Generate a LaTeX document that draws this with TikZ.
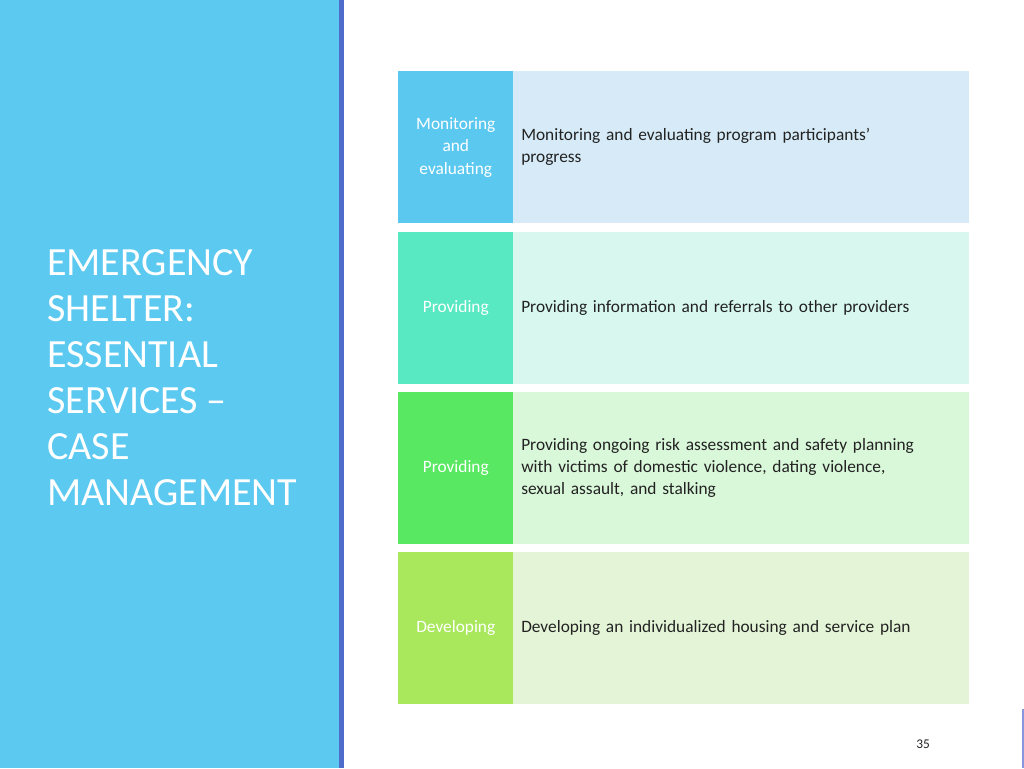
\documentclass[tikz,border=0pt]{standalone}
\usepackage{fontspec}
\setmainfont{Carlito}
\definecolor{side}{HTML}{5CC9F1}
\definecolor{stripe}{HTML}{4F6CCB}
\definecolor{l1}{HTML}{5BC8F0}\definecolor{r1}{HTML}{D6EBF7}
\definecolor{l2}{HTML}{58E8C2}\definecolor{r2}{HTML}{D7F7EF}
\definecolor{l3}{HTML}{58E862}\definecolor{r3}{HTML}{D9F7D9}
\definecolor{l4}{HTML}{A9E85C}\definecolor{r4}{HTML}{E4F5D7}
\definecolor{txt}{HTML}{222222}
\tikzset{x=0.75pt,y=-0.75pt,
 lbox/.style={minimum width=115*0.75pt,minimum height=152*0.75pt,anchor=north west,inner sep=0pt,text=white,font=\fontsize{13}{17}\selectfont,align=center},
 rbox/.style={minimum width=456*0.75pt,minimum height=152*0.75pt,anchor=north west,inner sep=0pt,text=txt,font=\fontsize{13}{16.5}\selectfont,align=left,text width=440*0.75pt}}
\begin{document}
\begin{tikzpicture}
\useasboundingbox (0,0) rectangle (1024,768);
\fill[white] (0,0) rectangle (1024,768);
\fill[side] (0,0) rectangle (339,768);
\fill[stripe] (339,0) rectangle (344,768);
\node[anchor=west,text=white,font=\fontsize{30}{34.5}\selectfont,align=left,inner sep=0pt] (title) at (47,378) {EMERGENCY\\SHELTER:\\ESSENTIAL\\SERVICES --\\CASE\\MANAGEMENT};
\node[lbox,fill=l1] (a1) at (398,71) {Monitoring\\and\\evaluating};
\node[rbox,fill=r1] (b1) at (513,71) {Monitoring and evaluating program participants'\\progress};
\node[lbox,fill=l2] (a2) at (398,232) {Providing};
\node[rbox,fill=r2] (b2) at (513,232) {Providing information and referrals to other providers};
\node[lbox,fill=l3] (a3) at (398,392) {Providing};
\node[rbox,fill=r3] (b3) at (513,392) {Providing ongoing risk assessment and safety planning\\with victims of domestic violence, dating violence,\\sexual assault, and stalking};
\node[lbox,fill=l4] (a4) at (398,552) {Developing};
\node[rbox,fill=r4] (b4) at (513,552) {Developing an individualized housing and service plan};
\node[text=txt,font=\fontsize{10}{12}\selectfont] (pg) at (923,744) {35};
\draw[stripe!70,line width=1.5pt] (1022.5,709) -- (1022.5,768);
\end{tikzpicture}
\end{document}
